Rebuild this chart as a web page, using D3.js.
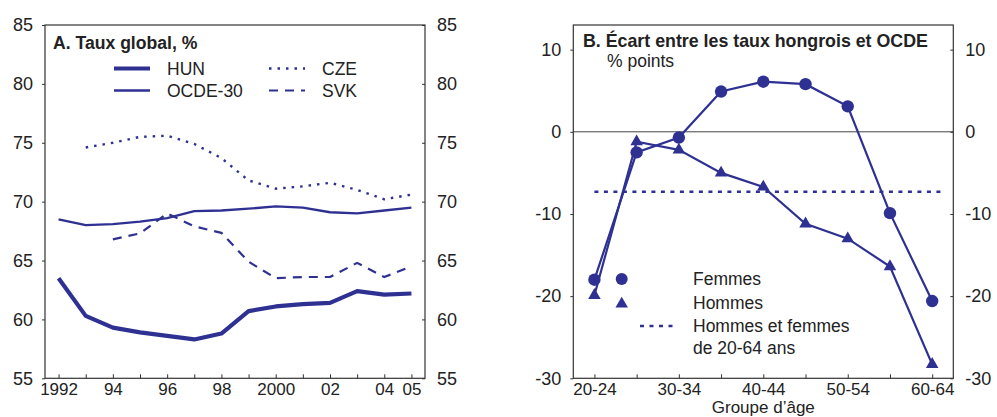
<!DOCTYPE html>
<html>
<head>
<meta charset="utf-8">
<script src="https://cdn.jsdelivr.net/npm/d3@7"></script>
<style>
  body { margin: 0; background: #fff; }
  svg { display: block; font-family: "Liberation Sans", Arial, sans-serif; }
  .frame { fill: none; stroke: #333; stroke-width: 1.2; }
  .axis path { display: none; }
  .axis line { stroke: #333; }
  .axis text { fill: #222; }
</style>
</head>
<body>
<div id="chart"></div>
<script>
// Panel A: taux global, %
const years = d3.range(1992, 2006);
const hun  = [63.5, 60.3, 59.3, 58.9, 58.6, 58.3, 58.8, 60.7, 61.1, 61.3, 61.4, 62.4, 62.1, 62.2];
const ocde = [68.5, 68.0, 68.1, 68.3, 68.6, 69.2, 69.25, 69.4, 69.6, 69.5, 69.1, 69.0, 69.25, 69.5];
const cze  = [null, 74.6, 75.0, 75.5, 75.6, 74.9, 73.7, 71.8, 71.1, 71.3, 71.6, 71.0, 70.2, 70.6];
const svk  = [null, null, 66.8, 67.3, 69.0, 67.9, 67.35, 64.9, 63.5, 63.6, 63.6, 64.8, 63.6, 64.5];
const yearLabels = {1992: "1992", 1994: "94", 1996: "96", 1998: "98", 2000: "2000", 2002: "02", 2004: "04", 2005: "05"};

// Panel B: écart entre les taux hongrois et OCDE, % points
const ageGroups = ["20-24", "25-29", "30-34", "35-39", "40-44", "45-49", "50-54", "55-59", "60-64"];
const femmes = [-18.0, -2.5, -0.7, 4.9, 6.1, 5.8, 3.1, -9.9, -20.6];
const hommes = [-19.9, -1.2, -2.2, -5.0, -6.7, -11.2, -13.0, -16.4, -28.3];
const ensemble = -7.3;
const ageLabels = ["20-24", "30-34", "40-44", "50-54", "60-64"];

const W = 997, H = 417;
const blue = "#2e3192";
const plotTop = 25, plotBottom = 378.3;
const plain = d => String(d); // hyphen, not the unicode minus

const svg = d3.select("#chart").append("svg")
    .attr("width", W).attr("height", H);

// ---------- Panel A ----------
const xA = d3.scaleLinear().domain([1991.5, 2005.5]).range([45, 425]);
const yA = d3.scaleLinear().domain([55, 85]).range([plotBottom, plotTop]);

const gA = svg.append("g");

gA.append("g").attr("class", "axis")
    .attr("transform", `translate(0,${plotBottom})`)
    .call(d3.axisBottom(xA).tickValues(years).tickSizeInner(-4).tickSizeOuter(0).tickPadding(5)
        .tickFormat(d => yearLabels[d] || ""))
    .call(g => g.selectAll("text").attr("font-size", 17));

gA.append("g").attr("class", "axis")
    .attr("transform", `translate(${xA.range()[0]},0)`)
    .call(d3.axisLeft(yA).tickValues(d3.range(55, 86, 5)).tickSizeInner(3).tickSizeOuter(0).tickPadding(9).tickFormat(plain))
    .call(g => g.selectAll("text").attr("font-size", 18));

gA.append("g").attr("class", "axis")
    .attr("transform", `translate(${xA.range()[1]},0)`)
    .call(d3.axisRight(yA).tickValues(d3.range(55, 86, 5)).tickSizeInner(-3).tickSizeOuter(0).tickPadding(12).tickFormat(plain))
    .call(g => g.selectAll("text").attr("font-size", 18));

gA.append("rect").attr("class", "frame")
    .attr("x", xA.range()[0]).attr("y", plotTop)
    .attr("width", xA.range()[1] - xA.range()[0]).attr("height", plotBottom - plotTop);

const lineA = d3.line()
    .defined(d => d[1] != null)
    .x(d => xA(d[0])).y(d => yA(d[1]));

const seriesA = [
  {name: "HUN",     values: hun,  width: 4.2, dash: null},
  {name: "OCDE-30", values: ocde, width: 2.3, dash: null},
  {name: "CZE",     values: cze,  width: 2.4, dash: "2.5,6"},
  {name: "SVK",     values: svk,  width: 2.2, dash: "9,7"}
];

gA.selectAll("path.series")
  .data(seriesA)
  .join("path")
    .attr("class", "series")
    .attr("fill", "none")
    .attr("stroke", blue)
    .attr("stroke-width", d => d.width)
    .attr("stroke-dasharray", d => d.dash)
    .attr("stroke-linejoin", "round")
    .attr("d", d => lineA(years.map((y, i) => [y, d.values[i]])));

gA.append("text")
    .attr("x", 53).attr("y", 48.5)
    .attr("font-size", 17.6).attr("font-weight", "bold").attr("fill", "#222")
    .text("A. Taux global, %");

const legA = gA.selectAll("g.leg")
  .data(seriesA)
  .join("g")
    .attr("class", "leg")
    .attr("transform", (d, i) => `translate(${i < 2 ? 114 : 269},${i % 2 === 0 ? 68.5 : 90.5})`);
legA.append("line")
    .attr("x1", 0).attr("x2", 36)
    .attr("stroke", blue)
    .attr("stroke-width", d => d.width)
    .attr("stroke-dasharray", d => d.dash);
legA.append("text")
    .attr("x", 53).attr("dy", "0.36em")
    .attr("font-size", 17.5).attr("fill", "#222")
    .text(d => d.name);

// ---------- Panel B ----------
const xB = d3.scalePoint().domain(ageGroups).range([573.3, 953.3]).padding(0.5);
const yB = d3.scaleLinear().domain([-30, 13]).range([plotBottom, plotTop]);

const gB = svg.append("g");

gB.append("g").attr("class", "axis")
    .attr("transform", `translate(0,${plotBottom})`)
    .call(d3.axisBottom(xB).tickSizeInner(-4).tickSizeOuter(0).tickPadding(5)
        .tickFormat(d => ageLabels.includes(d) ? d : ""))
    .call(g => g.selectAll("text").attr("font-size", 17));

gB.append("g").attr("class", "axis")
    .attr("transform", `translate(${xB.range()[0]},0)`)
    .call(d3.axisLeft(yB).tickValues(d3.range(-30, 11, 10)).tickSizeInner(3).tickSizeOuter(0).tickPadding(9).tickFormat(plain))
    .call(g => g.selectAll("text").attr("font-size", 18));

gB.append("g").attr("class", "axis")
    .attr("transform", `translate(${xB.range()[1]},0)`)
    .call(d3.axisRight(yB).tickValues(d3.range(-30, 11, 10)).tickSizeInner(-3).tickSizeOuter(0).tickPadding(12).tickFormat(plain))
    .call(g => g.selectAll("text").attr("font-size", 18));

gB.append("line")
    .attr("x1", xB.range()[0]).attr("x2", xB.range()[1])
    .attr("y1", yB(0)).attr("y2", yB(0))
    .attr("stroke", "#444").attr("stroke-width", 1);

gB.append("rect").attr("class", "frame")
    .attr("x", xB.range()[0]).attr("y", plotTop)
    .attr("width", xB.range()[1] - xB.range()[0]).attr("height", plotBottom - plotTop);

// dotted line: hommes et femmes 20-64 ans
gB.append("line")
    .attr("x1", xB(ageGroups[0])).attr("x2", xB(ageGroups[8]) + xB.step() * 0.23)
    .attr("y1", yB(ensemble)).attr("y2", yB(ensemble))
    .attr("stroke", blue).attr("stroke-width", 2.4).attr("stroke-dasharray", "4,5.5");

const lineB = d3.line().x((d, i) => xB(ageGroups[i])).y(d => yB(d));
const tri = d3.symbol().type(d3.symbolTriangle).size(68);

gB.append("path").attr("fill", "none").attr("stroke", blue).attr("stroke-width", 2.2)
    .attr("d", lineB(hommes));
gB.append("path").attr("fill", "none").attr("stroke", blue).attr("stroke-width", 2.2)
    .attr("d", lineB(femmes));

gB.selectAll("path.tri")
  .data(hommes)
  .join("path")
    .attr("class", "tri")
    .attr("fill", blue)
    .attr("transform", (d, i) => `translate(${xB(ageGroups[i])},${yB(d)})`)
    .attr("d", tri());

gB.selectAll("circle.fem")
  .data(femmes)
  .join("circle")
    .attr("class", "fem")
    .attr("fill", blue)
    .attr("r", 6.2)
    .attr("cx", (d, i) => xB(ageGroups[i]))
    .attr("cy", d => yB(d));

gB.append("text")
    .attr("x", 583).attr("y", 47)
    .attr("font-size", 17.8).attr("font-weight", "bold").attr("fill", "#222")
    .text("B. Écart entre les taux hongrois et OCDE");
gB.append("text")
    .attr("x", 607).attr("y", 67)
    .attr("font-size", 17.5).attr("fill", "#222")
    .text("% points");

// legend B
const legX = 621.7, legT = 693;
gB.append("circle").attr("cx", legX).attr("cy", 279).attr("r", 6).attr("fill", blue);
gB.append("path").attr("fill", blue).attr("transform", `translate(${legX},304)`).attr("d", tri());
gB.append("line").attr("x1", 640).attr("x2", 676).attr("y1", 326).attr("y2", 326)
    .attr("stroke", blue).attr("stroke-width", 2.4).attr("stroke-dasharray", "4,5.5");

const legLines = [["Femmes", 279], ["Hommes", 303], ["Hommes et femmes", 326], ["de 20-64 ans", 348]];
gB.selectAll("text.legb")
  .data(legLines)
  .join("text")
    .attr("class", "legb")
    .attr("x", legT).attr("y", d => d[1]).attr("dy", "0.36em")
    .attr("font-size", 17.5).attr("fill", "#222")
    .text(d => d[0]);

gB.append("text")
    .attr("x", d3.mean(xB.range())).attr("y", 412.5)
    .attr("text-anchor", "middle")
    .attr("font-size", 17).attr("fill", "#222")
    .text("Groupe d’âge");
</script>
</body>
</html>
